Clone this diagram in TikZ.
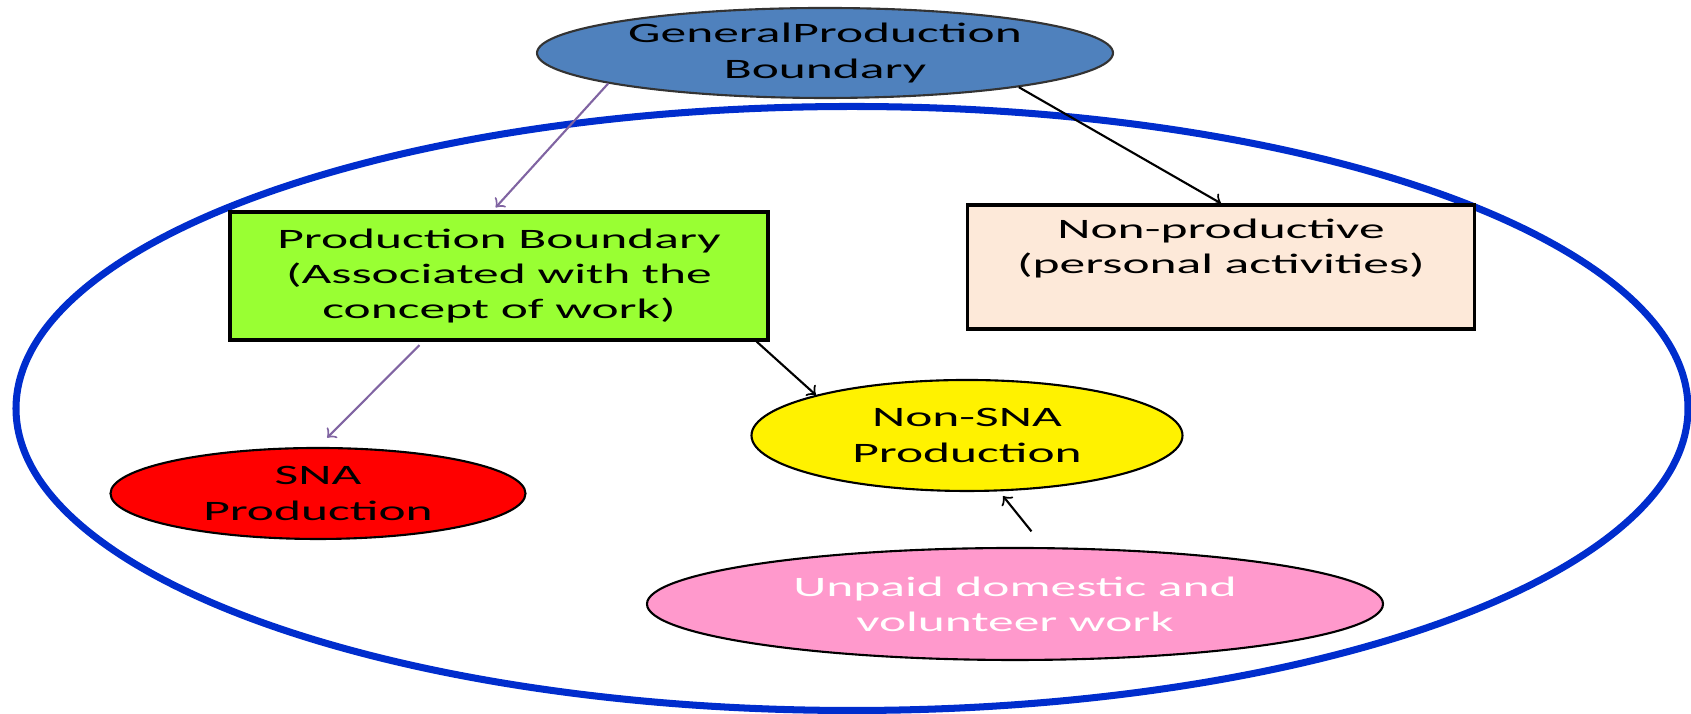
\documentclass[tikz,border=0pt]{standalone}
\usepackage{fontspec}
\setmainfont{Carlito}[FakeStretch=1.83]
\usetikzlibrary{shapes.geometric}

\definecolor{genblue}{RGB}{79,129,189}
\definecolor{ringblue}{RGB}{0,45,205}
\definecolor{workgreen}{RGB}{153,255,51}
\definecolor{peach}{RGB}{253,233,217}
\definecolor{unpaidpink}{RGB}{255,153,204}
\definecolor{arrowpurple}{RGB}{128,100,162}

\begin{document}
\begin{tikzpicture}[
    font=\fontsize{8}{10}\selectfont,
    oval/.style={ellipse, draw, line width=0.6pt, inner sep=0pt, align=center},
    box/.style={rectangle, draw, line width=0.9pt, inner sep=0pt, align=center},
    purplearrow/.style={->, arrowpurple, line width=0.6pt},
    blackarrow/.style={->, black, line width=0.6pt}
]
    \useasboundingbox (0,0) rectangle (16.91,7.14);

    % Elipse exterior
    \draw [ringblue, line width=2pt] (8.52,3.055) ellipse (8.36 and 3.02);

    % Nodos
    \node[oval, fill=genblue, draw=black!80, minimum width=5.76cm, minimum height=0.9cm]
        (gen) at (8.25,6.61) {GeneralProduction\\Boundary};
    \node[box, fill=workgreen, minimum width=5.38cm, minimum height=1.28cm]
        (prod) at (4.99,4.38) {Production Boundary\\(Associated with the\\concept of work)};
    \node[box, fill=peach, minimum width=5.07cm, minimum height=1.24cm]
        (nonprod) at (12.21,4.47) {Non-productive\\(personal activities)\\[2pt]\mbox{}};
    \node[oval, fill=red, minimum width=4.15cm, minimum height=0.91cm]
        (sna) at (3.18,2.205) {SNA\\Production};
    \node[oval, fill=yellow, minimum width=4.31cm, minimum height=1.11cm]
        (nonsna) at (9.67,2.785) {Non-SNA\\Production};
    \node[oval, fill=unpaidpink, text=white, minimum width=7.36cm, minimum height=1.12cm]
        (unpaid) at (10.15,1.10) {Unpaid domestic and\\volunteer work};

    % Flechas
    \draw [purplearrow, shorten >=0.4mm] (gen.188.5) -- ([xshift=-0.6mm]prod.north);
    \draw [blackarrow] (gen.-10) -- (nonprod.north);
    \draw [purplearrow, shorten <=0.5mm, shorten >=1.3mm] ([xshift=-7.6mm]prod.south) -- (sna.north);
    \draw [blackarrow] ([xshift=-1.3mm]prod.south east) -- (nonsna.165);
    \draw [blackarrow, shorten <=2mm, shorten >=0.6mm] ([xshift=2.9mm]unpaid.north) -- (nonsna.-60);

\end{tikzpicture}
\end{document}
